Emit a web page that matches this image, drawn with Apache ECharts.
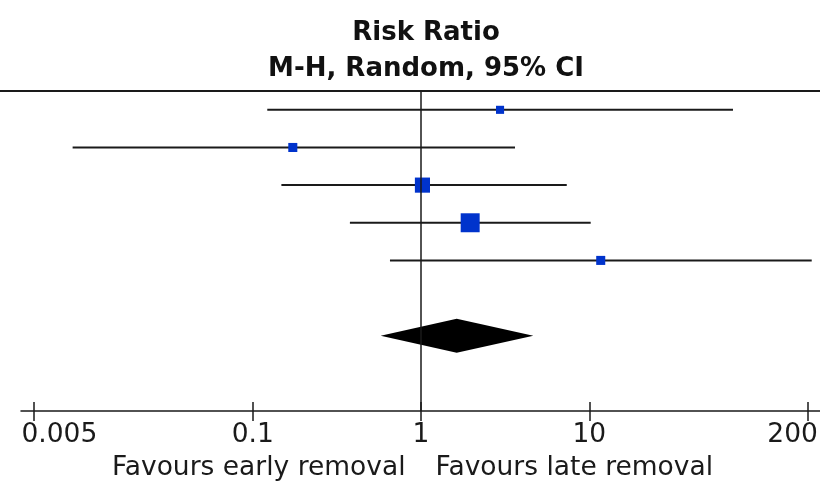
<!DOCTYPE html>
<html>
<head>
<meta charset="utf-8">
<script src="https://cdn.jsdelivr.net/npm/echarts@6/dist/echarts.min.js"></script>
<style>
  html, body { margin: 0; padding: 0; background: #fff; }
  #chart { width: 820px; height: 484px; }
</style>
</head>
<body>
<div id="chart"></div>
<script>
// ── Data ──────────────────────────────────────────────────────────────
// studies, top to bottom (row index on the y axis)
const studyRows = [0, 1, 2, 3, 4];
const riskRatio = [2.95, 0.173, 1.02, 1.96, 11.7];
const ciLow     = [0.122, 0.0085, 0.148, 0.378, 0.654];
const ciHigh    = [71.5, 3.62, 7.35, 10.2, 210];
const weights   = [8, 10, 28, 44, 10];          // % weight -> box area

// pooled estimate (diamond)
const pooledRow = 6;
const pooledLow = 0.576;
const pooledRR  = 1.63;
const pooledHigh = 4.65;

const tickValues = [0.005, 0.1, 1, 10, 200];
const tickLabels = ['0.005', '0.1', '1', '10', '200'];

// ── Style ─────────────────────────────────────────────────────────────
const fontFamily = '"DejaVu Sans", sans-serif';
const fontSize = 26.5;
const ink = '#1a1a1a';
const boxBlue = '#0033cc';

const chart = echarts.init(document.getElementById('chart'), null, { renderer: 'canvas' });

const labelFor = (v) => {
  const i = tickValues.findIndex(t => Math.abs(t - v) / t < 1e-6);
  if (i < 0) return '';
  if (i === 0) return '{first|' + tickLabels[i] + '}';
  if (i === tickValues.length - 1) return '{last|' + tickLabels[i] + '}';
  return tickLabels[i];
};

const axisBase = {
  type: 'log',
  logBase: 10,
  min: 0.004194,
  max: 235.2,
  position: 'bottom',
  offset: 0,
  splitLine: { show: false },
  minorTick: { show: false },
};

chart.setOption({
  animation: false,
  title: {
    text: 'Risk Ratio\nM-H, Random, 95% CI',
    left: 421,
    top: 10,
    textAlign: 'center',
    textStyle: { fontFamily, fontSize: 26, fontWeight: 'bold', color: '#111', lineHeight: 36 },
  },
  grid: { left: 21, right: 0, top: 91, bottom: 73, containLabel: false, outerBoundsMode: 'none' },
  graphic: [{
    type: 'line',
    shape: { x1: 0, y1: 91, x2: 820, y2: 91 },
    style: { stroke: ink, lineWidth: 2 },
  }],
  xAxis: [
    Object.assign({}, axisBase, {
      axisLine: { show: true, onZero: false, lineStyle: { color: ink, width: 1.5 } },
      axisTick: { show: true, customValues: tickValues, length: 10, lineStyle: { color: ink, width: 1.5 } },
      axisLabel: {
        customValues: tickValues,
        formatter: labelFor,
        margin: 11,
        color: ink,
        fontFamily,
        fontSize,
        rich: {
          first: { fontFamily, fontSize, color: ink, padding: [0, 0, 0, 51] },
          last:  { fontFamily, fontSize, color: ink, padding: [0, 31, 0, 0] },
        },
      },
      name: '{l|Favours early removal}{r|Favours late removal}',
      nameLocation: 'middle',
      nameGap: 44,
      nameTextStyle: {
        fontFamily, fontSize, color: ink,
        rich: {
          l: { fontFamily, fontSize, color: ink, padding: [0, 15, 0, 0] },
          r: { fontFamily, fontSize, color: ink, padding: [0, 16, 0, 15] },
        },
      },
    }),
    Object.assign({}, axisBase, {
      axisLine: { show: false, onZero: false },
      axisTick: { show: true, inside: true, customValues: tickValues, length: 9, lineStyle: { color: ink, width: 1.5 } },
      axisLabel: { show: false },
    }),
  ],
  yAxis: {
    type: 'value',
    inverse: true,
    min: -0.5,
    max: 8,
    show: false,
  },
  series: [
    {
      type: 'custom',
      name: 'ci',
      data: studyRows.map(i => [ciLow[i], ciHigh[i], i]),
      encode: { x: [0, 1], y: 2 },
      clip: false,
      renderItem: (params, api) => {
        const a = api.coord([api.value(0), api.value(2)]);
        const b = api.coord([api.value(1), api.value(2)]);
        return {
          type: 'line',
          shape: { x1: a[0], y1: a[1], x2: b[0], y2: b[1] },
          style: { stroke: ink, lineWidth: 2 },
        };
      },
      markLine: {
        silent: true,
        symbol: 'none',
        label: { show: false },
        lineStyle: { color: ink, width: 1.5, type: 'solid' },
        data: [{ xAxis: 1 }],
      },
      z: 2,
    },
    {
      type: 'scatter',
      name: 'studies',
      data: studyRows.map(i => [riskRatio[i], i, weights[i]]),
      symbol: 'rect',
      symbolSize: (d) => 2.86 * Math.sqrt(d[2]),
      itemStyle: { color: boxBlue, opacity: 1 },
      z: 3,
    },
    {
      type: 'custom',
      name: 'pooled',
      data: [[pooledLow, pooledRR, pooledHigh, pooledRow]],
      encode: { x: [0, 1, 2], y: 3 },
      renderItem: (params, api) => {
        const row = api.value(3);
        const l = api.coord([api.value(0), row]);
        const m = api.coord([api.value(1), row]);
        const r = api.coord([api.value(2), row]);
        const h = 17;
        return {
          type: 'polygon',
          shape: { points: [[l[0], l[1]], [m[0], m[1] - h], [r[0], r[1]], [m[0], m[1] + h]] },
          style: { fill: '#000' },
        };
      },
      z: 3,
    },
  ],
});
</script>
</body>
</html>
